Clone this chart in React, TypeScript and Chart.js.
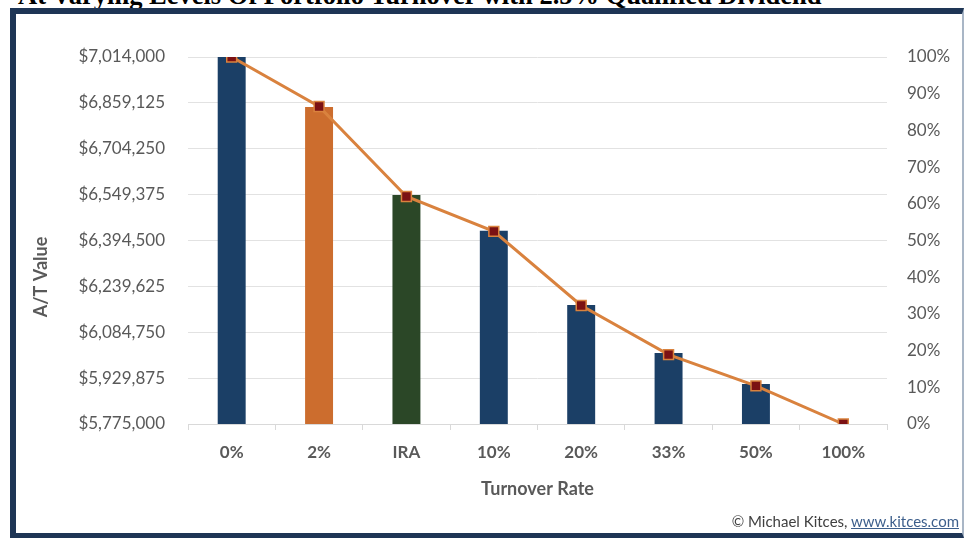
import React, { useEffect, useRef } from 'react';
import { Chart, registerables } from 'chart.js';

Chart.register(...registerables);

// ---- data ----
const categories = ['0%', '2%', 'IRA', '10%', '20%', '33%', '50%', '100%'];
const afterTaxValues = [7014000, 6845000, 6548000, 6427000, 6177000, 6015000, 5910000, 5775000];
const relativePct = [100, 86.5, 62, 52.5, 32.3, 18.9, 10.4, 0];
const barColors = ['#1b3f66', '#cc6d2e', '#2b4727', '#1b3f66', '#1b3f66', '#1b3f66', '#1b3f66', '#1b3f66'];
const leftAxisMin = 5775000;
const leftAxisMax = 7014000;
const leftAxisStep = 154875;
const rightAxisMin = 0;
const rightAxisMax = 100;
const rightAxisStep = 10;

const titleText = 'At Varying Levels Of Portfolio Turnover with 2.5% Qualified Dividend';
const xTitle = 'Turnover Rate';
const yTitle = 'A/T Value';

const FONT = 'Lato, "Open Sans", sans-serif';
const GREY = '#595959';

const yTitlePlugin = {
  id: 'yTitleDraw',
  afterDraw(chart: any) {
    const ctx = chart.ctx;
    ctx.save();
    ctx.font = 'bold 18px ' + FONT;
    ctx.fillStyle = GREY;
    ctx.textAlign = 'center';
    ctx.textBaseline = 'middle';
    ctx.translate(24, 263);
    ctx.rotate(-Math.PI / 2);
    ctx.fillText(yTitle, 0, 0);
    ctx.restore();
  },
};

export default function App() {
  const ref = useRef<HTMLCanvasElement | null>(null);

  useEffect(() => {
    if (!ref.current) return;
    const chart = new Chart(ref.current, {
      type: 'bar',
      data: {
        labels: categories,
        datasets: [
          {
            type: 'line',
            label: 'Relative',
            data: relativePct,
            yAxisID: 'y1',
            borderColor: '#d9823e',
            borderWidth: 3,
            pointStyle: 'rect',
            pointRadius: 7,
            pointBackgroundColor: '#7b1113',
            pointBorderColor: '#d9823e',
            pointBorderWidth: 1.5,
            tension: 0,
            order: 0,
          } as any,
          {
            type: 'bar',
            label: 'A/T Value',
            data: afterTaxValues,
            yAxisID: 'y',
            backgroundColor: barColors,
            barPercentage: 0.32,
            categoryPercentage: 1,
            order: 1,
          } as any,
        ],
      },
      plugins: [yTitlePlugin],
      options: {
        responsive: false,
        animation: false,
        devicePixelRatio: 1,
        layout: { padding: { top: 43, left: 0, right: 0, bottom: 0 } },
        plugins: {
          legend: { display: false },
          tooltip: { enabled: false },
        },
        scales: {
          x: {
            offset: true,
            grid: {
              display: true,
              drawOnChartArea: false,
              drawTicks: true,
              tickLength: 6,
              color: '#d9d9d9',
            },
            border: { display: true, color: '#d9d9d9', width: 1 },
            ticks: {
              padding: 12,
              color: GREY,
              font: { family: FONT, size: 17, weight: 'bold' },
              maxRotation: 0,
              autoSkip: false,
            },
            title: {
              display: true,
              text: xTitle,
              color: GREY,
              font: { family: FONT, size: 18, weight: 'bold' },
              padding: { top: 0, bottom: 36 },
            },
            afterFit: (s: any) => {
              s.height = 112;
            },
          },
          y: {
            position: 'left',
            min: leftAxisMin,
            max: leftAxisMax,
            grid: { color: '#e2e2e2', drawTicks: false },
            border: { display: false },
            ticks: {
              stepSize: leftAxisStep,
              padding: 23,
              color: GREY,
              font: { family: FONT, size: 17 },
              callback: (v: any) => '$' + Number(v).toLocaleString('en-US'),
            },
            afterFit: (s: any) => {
              s.width = 171;
            },
          },
          y1: {
            position: 'right',
            min: rightAxisMin,
            max: rightAxisMax,
            grid: { drawOnChartArea: false, drawTicks: false },
            border: { display: false },
            ticks: {
              stepSize: rightAxisStep,
              padding: 20,
              color: GREY,
              font: { family: FONT, size: 17 },
              callback: (v: any) => v + '%',
            },
            afterFit: (s: any) => {
              s.width = 77;
            },
          },
        },
      } as any,
    });
    return () => chart.destroy();
  }, []);

  return (
    <div
      style={{
        position: 'fixed',
        left: 0,
        top: 0,
        width: 970,
        height: 542,
        background: '#ffffff',
        overflow: 'hidden',
      }}
    >
      <div
        style={{
          position: 'absolute',
          left: 18,
          top: -18,
          whiteSpace: 'nowrap',
          fontFamily: '"Liberation Serif", "Times New Roman", serif',
          fontWeight: 'bold',
          fontSize: 26.5,
          lineHeight: '26.5px',
          color: '#000',
        }}
      >
        {titleText}
      </div>
      <div
        style={{
          position: 'absolute',
          left: 10,
          top: 8,
          width: 954,
          height: 530,
          boxSizing: 'border-box',
          borderLeft: '6px solid #1e3555',
          borderTop: '6px solid #1e3555',
          borderBottom: '5px solid #1e3555',
          borderRight: '2px solid #a9b6c6',
          background: '#fff',
        }}
      />
      <canvas
        ref={ref}
        width={947}
        height={522}
        style={{ position: 'absolute', left: 17, top: 14, width: 947, height: 522 }}
      />
      <div
        style={{
          position: 'absolute',
          right: 11,
          top: 511,
          whiteSpace: 'nowrap',
          fontFamily: FONT,
          fontSize: 15,
          lineHeight: '20px',
          color: '#404040',
        }}
      >
        © Michael Kitces,{' '}
        <span style={{ color: '#3d5f8c', textDecoration: 'underline' }}>www.kitces.com</span>
      </div>
    </div>
  );
}
